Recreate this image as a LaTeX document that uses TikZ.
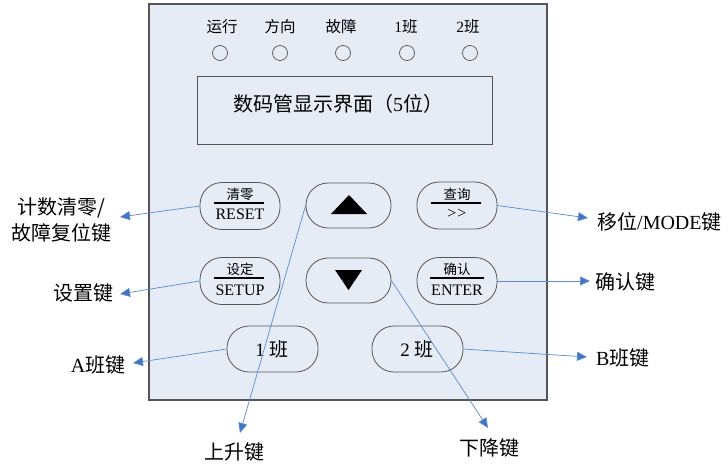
\documentclass[tikz,border=0pt]{standalone}
\usepackage{fontspec}
\setmainfont{Liberation Serif}
\newfontfamily\cjk{Noto Sans CJK SC}
\usetikzlibrary{arrows.meta}
\definecolor{panelfill}{HTML}{E6ECF6}
\definecolor{edgegray}{HTML}{555555}
\definecolor{linkblue}{HTML}{5B8BD0}
\definecolor{tipblue}{HTML}{4472C4}
\tikzset{
  panel/.style={draw=edgegray, line width=1.2pt, fill=panelfill},
  btn/.style={draw=edgegray, line width=0.8pt, rounded corners=22pt, inner sep=0pt},
  led/.style={circle, draw=edgegray, line width=0.7pt, minimum size=15pt, inner sep=0pt},
  ledlbl/.style={font=\fontsize{15.5}{17}\selectfont, inner sep=0pt},
  keytop/.style={font=\fontsize{13.5}{15}\selectfont, inner sep=0pt},
  keybot/.style={font=\fontsize{16}{18}\selectfont, inner sep=0pt},
  biglbl/.style={font=\fontsize{20}{26}\selectfont, inner sep=0pt, align=center},
  conn/.style={draw=linkblue, line width=0.7pt, -{Triangle[length=10pt, width=9pt, fill=tipblue]}, shorten >=0pt},
  keyrule/.style={line width=1.4pt, black},
  tri/.style={fill=black}
}
\begin{document}
\begin{tikzpicture}[x=1pt, y=-1pt]
\useasboundingbox (0,0) rectangle (728,466);
% panel
\path[panel] (149,4) rectangle (547,400);
% LEDs
\foreach \n/\x/\t in {a/222/{\cjk 运行}, b/280/{\cjk 方向}, c/341/{\cjk 故障}, d/406/{1\cjk 班}, e/468/{2\cjk 班}} {
  \node[ledlbl] (t\n) at (\x,27) {\t};
}
\foreach \n/\x in {a/220, b/280, c/343, d/407, e/470} {
  \node[led] (l\n) at (\x,53) {};
}
% display
\node[draw=edgegray, line width=0.8pt, minimum width=295pt, minimum height=68pt, inner sep=0pt] (disp) at (344.5,110) {};
\node[font=\fontsize{20}{24}\selectfont, inner sep=0pt] (disptxt) at (338,104) {\cjk 数码管显示界面（{\rmfamily 5}位）};
% buttons
\node[btn, minimum width=80pt, minimum height=47pt] (reset) at (240,206) {};
\node[btn, minimum width=85pt, minimum height=45pt] (up) at (348.5,205.5) {};
\node[btn, minimum width=80pt, minimum height=47pt] (query) at (457,205.5) {};
\node[btn, minimum width=80pt, minimum height=47pt] (setup) at (240,281) {};
\node[btn, minimum width=85pt, minimum height=45pt] (down) at (348.5,280.5) {};
\node[btn, minimum width=80pt, minimum height=47pt] (enter) at (457,281) {};
\node[btn, minimum width=91pt, minimum height=46pt] (one) at (272.5,349) {};
\node[btn, minimum width=91pt, minimum height=46pt] (two) at (417.5,349) {};
% key texts
\node[keytop] (resettop) at (240,194) {\cjk 清零};
\draw[keyrule] (213.5,203) -- (263.5,203);
\node[keybot] (resetbot) at (240,214) {RESET};
\node[keytop] (querytop) at (457,194) {\cjk 查询};
\draw[keyrule] (431,203) -- (481,203);
\node[keybot] (querybot) at (457,214) {{>}\kern1pt{>}};
\node[keytop] (setuptop) at (240,269) {\cjk 设定};
\draw[keyrule] (213.5,278) -- (263.5,278);
\node[keybot] (setupbot) at (240,290) {SETUP};
\node[keytop] (entertop) at (457,269) {\cjk 确认};
\draw[keyrule] (430,278) -- (484,278);
\node[keybot] (enterbot) at (457,290) {ENTER};
\node[font=\fontsize{19}{21}\selectfont, inner sep=0pt] (onetxt) at (272,349) {1 {\cjk 班}};
\node[font=\fontsize{19}{21}\selectfont, inner sep=0pt] (twotxt) at (417,349) {2 {\cjk 班}};
\path[tri] (331,214) -- (349,195) -- (367,214) -- cycle;
\path[tri] (335,270) -- (362,270) -- (348.5,290) -- cycle;
% outside labels
\node[biglbl] (lreset) at (61,220) {\cjk 计数清零/\\\cjk 故障复位键};
\node[biglbl] (lsetup) at (83,293) {\cjk 设置键};
\node[biglbl, anchor=west] (lmode) at (597,222) {\cjk 移位{\rmfamily /MODE}键};
\node[biglbl, anchor=west] (lenter) at (595,282) {\cjk 确认键};
\node[biglbl] (lA) at (98,365) {A{\cjk 班键}};
\node[biglbl, anchor=west] (lB) at (596,358) {B{\cjk 班键}};
\node[biglbl] (lup) at (234,452) {\cjk 上升键};
\node[biglbl] (ldown) at (489,448) {\cjk 下降键};
% arrow tips
\coordinate (treset) at (120,217);
\coordinate (tsetup) at (120,294);
\coordinate (tmode) at (588,218);
\coordinate (tenter) at (590,281);
\coordinate (tA) at (133,363);
\coordinate (tB) at (587,357);
\coordinate (tup) at (240,433);
\coordinate (tdown) at (488,428);
% connectors
\draw[conn] (reset.west) -- (treset);
\draw[conn] (setup.west) -- (tsetup);
\draw[conn] (query.east) -- (tmode);
\draw[conn] (enter.east) -- (tenter);
\draw[conn] (one.west) -- (tA);
\draw[conn] (two.east) -- (tB);
\draw[conn] (up.west) -- (tup);
\draw[conn] (down.east) -- (tdown);
\end{tikzpicture}
\end{document}
